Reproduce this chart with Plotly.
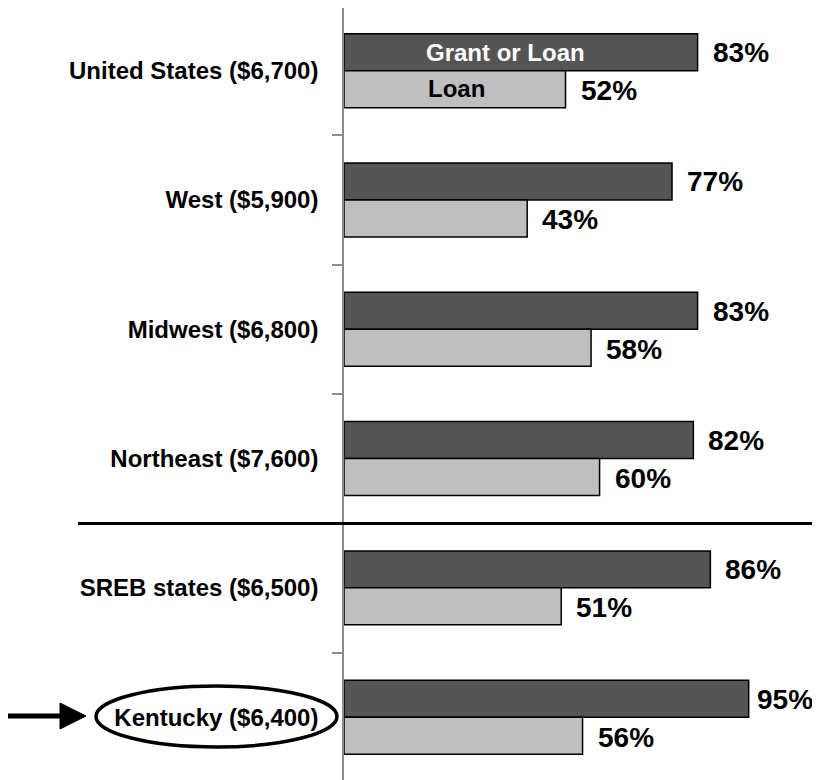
import plotly.graph_objects as go

categories = ["United States ($6,700)", "West ($5,900)", "Midwest ($6,800)",
              "Northeast ($7,600)", "SREB states ($6,500)", "Kentucky ($6,400)"]
grant_or_loan = [83, 77, 83, 82, 86, 95]
loan = [52, 43, 58, 60, 51, 56]
series_names = ["Grant or Loan", "Loan"]

FONT = "Liberation Sans, Arial, sans-serif"
DARK = "#555555"
LIGHT = "#bfbfbf"

OFF = 8  # page offset of the figure (body margin)
W, H = 812, 772
L, R, T, B = 336, 50, 0, 0
pw, ph = W - L - R, H - T - B
XMAX = 100

def px_x(px):
    return (px - OFF - L) / pw

def px_y(py):
    return (OFF + T + ph - py) / ph

def label_shift(v, width=65, gap=13):
    # keep the value label inside the figure
    end_px = L + v / XMAX * pw
    return max(4, min(gap, W - width - end_px))

fig = go.Figure()
fig.add_trace(go.Bar(y=categories, x=grant_or_loan, orientation="h", name=series_names[0],
                     marker=dict(color=DARK, line=dict(color="black", width=1.5))))
fig.add_trace(go.Bar(y=categories, x=loan, orientation="h", name=series_names[1],
                     marker=dict(color=LIGHT, line=dict(color="black", width=1.5))))

annotations = []
for c, v in zip(categories, grant_or_loan):
    annotations.append(dict(x=v, y=c, xref="x", yref="y", text=f"{v}%", showarrow=False,
                            xanchor="left", yanchor="middle", xshift=label_shift(v), yshift=18,
                            font=dict(family=FONT, size=28, color="black", weight="bold")))
for c, v in zip(categories, loan):
    annotations.append(dict(x=v, y=c, xref="x", yref="y", text=f"{v}%", showarrow=False,
                            xanchor="left", yanchor="middle", xshift=label_shift(v), yshift=-20,
                            font=dict(family=FONT, size=28, color="black", weight="bold")))
# in-bar series labels
annotations.append(dict(x=37.8, y=categories[0], xref="x", yref="y", text=series_names[0],
                        showarrow=False, xanchor="center", yanchor="middle", yshift=18,
                        font=dict(family=FONT, size=24, color="white", weight="bold")))
annotations.append(dict(x=26.5, y=categories[0], xref="x", yref="y", text=series_names[1],
                        showarrow=False, xanchor="center", yanchor="middle", yshift=-18,
                        font=dict(family=FONT, size=24, color="black", weight="bold")))

shapes = [
    # separator between regions and SREB
    dict(type="line", xref="paper", yref="paper", x0=px_x(78), x1=px_x(812),
         y0=px_y(523.5), y1=px_y(523.5), line=dict(color="black", width=3)),
    # ellipse around Kentucky
    dict(type="circle", xref="paper", yref="paper", x0=px_x(96), x1=px_x(337),
         y0=px_y(747), y1=px_y(686), line=dict(color="black", width=3.5)),
    # arrow shaft
    dict(type="line", xref="paper", yref="paper", x0=px_x(5), x1=px_x(64),
         y0=px_y(716), y1=px_y(716), line=dict(color="black", width=5)),
    # arrow head
    dict(type="path", xref="paper", yref="paper",
         path=f"M {px_x(60)} {px_y(703)} L {px_x(86)} {px_y(716)} L {px_x(60)} {px_y(729)} Z",
         fillcolor="black", line=dict(color="black", width=1)),
]

fig.update_layout(
    width=W, height=H,
    margin=dict(l=L, r=R, t=T, b=B, pad=0),
    paper_bgcolor="white", plot_bgcolor="white",
    barmode="group", bargap=0.428, bargroupgap=0,
    showlegend=False,
    annotations=annotations, shapes=shapes,
    font=dict(family=FONT, color="black"),
)
fig.update_xaxes(range=[0, XMAX], visible=False, showgrid=False, zeroline=False)
fig.update_yaxes(type="category", range=[5.486, -0.4845], showgrid=False, zeroline=False,
                 showline=True, linecolor="#8c8c8c", linewidth=1.5,
                 ticks="outside", ticklen=10, tickcolor="#8c8c8c", tickwidth=1.5,
                 tickson="boundaries", ticklabelstandoff=19,
                 tickfont=dict(family=FONT, size=24, color="black", weight="bold"))

fig.write_html("out.html")
